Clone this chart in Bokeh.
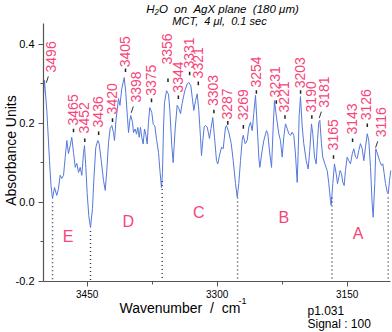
import numpy as np
from bokeh.plotting import figure
from bokeh.models import Range1d, FixedTicker, PrintfTickFormatter, Label, ColumnDataSource
from bokeh.embed import file_html
from bokeh.resources import INLINE
from bokeh.core.properties import value

# ---------------- data ----------------
wavenumber = [3500.4, 3499.3, 3496.6, 3493.5, 3491.8, 3490.0, 3487.7, 3485.1, 3483.1, 3481.2,
              3479.3, 3477.3, 3475.4, 3473.5, 3471.6, 3469.6, 3467.8, 3465.8, 3463.8, 3462.0,
              3460.0, 3458.1, 3456.2, 3454.3, 3453.1, 3451.6, 3450.0, 3448.2, 3446.2, 3443.9,
              3442.4, 3440.1, 3437.8, 3436.2, 3433.8, 3431.2, 3429.2, 3427.4, 3425.4, 3423.5,
              3421.6, 3419.7, 3418.5, 3416.8, 3413.9, 3412.2, 3410.1, 3407.3, 3405.5, 3403.5,
              3402.3, 3400.8, 3399.7, 3397.7, 3396.6, 3394.6, 3393.1, 3391.6, 3390.0, 3388.5,
              3387.0, 3385.4, 3383.9, 3382.4, 3380.8, 3379.3, 3377.8, 3375.5, 3373.8, 3372.0,
              3370.0, 3367.7, 3366.2, 3364.3, 3363.1, 3362.0, 3360.8, 3358.5, 3356.2, 3354.7,
              3352.4, 3350.8, 3348.5, 3346.2, 3344.3, 3342.3, 3340.4, 3337.4, 3334.6, 3332.8,
              3330.5, 3328.8, 3327.0, 3325.0, 3323.1, 3321.2, 3319.3, 3318.1, 3316.6, 3315.0,
              3313.5, 3311.5, 3308.9, 3307.2, 3305.1, 3303.1, 3300.8, 3299.3, 3297.0, 3295.0,
              3293.1, 3290.4, 3289.3, 3286.6, 3283.8, 3281.5, 3278.9, 3276.9, 3275.1, 3273.1,
              3271.2, 3270.0, 3267.7, 3265.4, 3263.5, 3261.6, 3259.6, 3257.8, 3255.8, 3253.8,
              3252.0, 3250.8, 3248.1, 3246.2, 3243.1, 3241.6, 3239.3, 3237.3, 3235.4, 3233.9,
              3231.6, 3228.9, 3227.0, 3225.0, 3223.2, 3221.2, 3219.2, 3217.4, 3215.4, 3213.5,
              3211.6, 3209.7, 3207.7, 3206.5, 3205.4, 3203.9, 3201.9, 3200.1, 3197.3, 3195.0,
              3193.2, 3191.2, 3189.7, 3187.7, 3185.8, 3184.3, 3182.8, 3181.6, 3179.7, 3178.2,
              3175.8, 3173.1, 3171.2, 3169.3, 3168.5, 3166.6, 3164.7, 3162.7, 3161.2, 3159.7,
              3158.1, 3156.6, 3155.1, 3153.5, 3152.0, 3150.0, 3148.2, 3146.2, 3144.2, 3142.4,
              3140.4, 3138.5, 3136.6, 3134.7, 3132.7, 3130.8, 3128.9, 3126.9, 3125.1, 3123.1,
              3121.2, 3120.0, 3118.2, 3117.0, 3115.0, 3112.7, 3110.4, 3108.9, 3107.3, 3105.8,
              3103.8, 3102.7, 3101.2, 3099.7]

absorbance = [0.270, 0.308, 0.232, 0.105, 0.042, 0.009, 0.037, 0.017, 0.035, 0.068,
              0.060, 0.068, 0.113, 0.156, 0.123, 0.143, 0.164, 0.126, 0.088, 0.098,
              0.075, 0.088, 0.068, 0.123, 0.143, 0.088, 0.022, -0.034, -0.064, -0.016,
              0.055, 0.138, 0.156, 0.148, 0.105, 0.055, 0.030, 0.080, 0.151, 0.186,
              0.194, 0.176, 0.156, 0.207, 0.262, 0.245, 0.287, 0.315, 0.277, 0.212,
              0.176, 0.207, 0.219, 0.202, 0.176, 0.185, 0.172, 0.189, 0.164, 0.189,
              0.164, 0.147, 0.185, 0.172, 0.147, 0.202, 0.239, 0.227, 0.197, 0.193,
              0.159, 0.126, 0.083, 0.037, 0.075, 0.185, 0.252, 0.282, 0.273, 0.235,
              0.143, 0.100, 0.185, 0.245, 0.237, 0.224, 0.250, 0.282, 0.299, 0.303,
              0.295, 0.265, 0.232, 0.257, 0.274, 0.232, 0.164, 0.118, 0.156, 0.190,
              0.194, 0.190, 0.161, 0.186, 0.214, 0.164, 0.105, 0.097, 0.122, 0.139,
              0.135, 0.190, 0.194, 0.177, 0.148, 0.105, 0.047, 0.013, 0.047, 0.105,
              0.156, 0.169, 0.148, 0.156, 0.190, 0.202, 0.181, 0.224, 0.270, 0.190,
              0.114, 0.088, 0.131, 0.156, 0.181, 0.173, 0.122, 0.088, 0.190, 0.257,
              0.215, 0.173, 0.156, 0.114, 0.164, 0.198, 0.186, 0.173, 0.169, 0.177,
              0.169, 0.122, 0.050, 0.131, 0.219, 0.267, 0.190, 0.148, 0.105, 0.084,
              0.131, 0.198, 0.173, 0.114, 0.097, 0.156, 0.202, 0.207, 0.148, 0.114,
              0.097, 0.080, 0.047, 0.004, -0.008, 0.047, 0.097, 0.072, 0.047, 0.063,
              0.080, 0.072, 0.051, 0.042, 0.080, 0.114, 0.105, 0.097, 0.122, 0.135,
              0.114, 0.110, 0.131, 0.148, 0.135, 0.105, 0.139, 0.173, 0.156, 0.088,
              -0.004, -0.038, 0.047, 0.135, 0.122, 0.105, 0.093, 0.097, 0.072, 0.047,
              0.025, 0.021, 0.055, 0.080]

peak_wn = [3496, 3465, 3452, 3436, 3420, 3405, 3398, 3375, 3356, 3344, 3331, 3321, 3303,
           3287, 3269, 3254, 3231, 3221, 3203, 3190, 3181, 3165, 3143, 3126, 3116]
label_h = [0.328, 0.194, 0.174, 0.189, 0.222, 0.341, 0.252, 0.269, 0.348, 0.277, 0.338, 0.313, 0.243,
           0.209, 0.207, 0.290, 0.265, 0.227, 0.288, 0.227, 0.239, 0.131, 0.171, 0.207, 0.164]
tick_h = [None, 0.181, 0.156, 0.174, 0.207, 0.333, None, 0.257, 0.308, 0.265, 0.325, 0.300, 0.229,
          0.200, 0.190, 0.278, 0.253, 0.215, 0.278, 0.215, None, 0.114, 0.156, 0.194, None]
leader_peaks = [3496, 3398, 3181, 3116]

region_names = ["E", "D", "C", "B", "A"]
region_wn = [3472.2, 3402.7, 3321.2, 3223.2, 3137.3]
region_h = [-0.087, -0.050, -0.025, -0.039, -0.080]

boundary_wn = [3490.0, 3446.2, 3363.5, 3276.5, 3167.5, 3102.7]

x_ticks = [3450, 3300, 3150]
x_minor = [3375, 3225]
y_ticks = [-0.2, 0.0, 0.2, 0.4]
y_minor = [-0.1, 0.1, 0.3]
x_axis_span = (3100.0, 3500.4)
y_axis_span = (-0.2, 0.452)

# ---------------- styling ----------------
PINK = "#f5457a"
BLUE = "#5578dc"
FONT = "Liberation Sans"
AXIS = "#555555"
SP = "\u00a0"  # non-breaking space keeps the wide gaps of the original texts

W, H = 392, 332
# the plotting frame covers the whole canvas; axes are pinned inside it
p = figure(width=W, height=H, output_backend="svg", toolbar_location=None,
           x_range=Range1d(3550.04, 3097.73), y_range=Range1d(-0.3295, 0.5100),
           min_border=0, min_border_left=0, min_border_right=0,
           min_border_top=0, min_border_bottom=0)
p.outline_line_color = None
p.xgrid.grid_line_color = None
p.ygrid.grid_line_color = None
p.background_fill_color = "white"
p.border_fill_color = "white"

# spectrum
p.line(wavenumber, absorbance, line_color=BLUE, line_width=1)

# dotted boundary lines, starting just below the local minimum
wn_arr = np.array(wavenumber)[::-1]
ab_arr = np.array(absorbance)[::-1]
tops = [float(np.interp(b, wn_arr, ab_arr)) - 0.009 for b in boundary_wn]
p.segment(x0=boundary_wn, y0=tops, x1=boundary_wn, y1=[y_axis_span[0]] * len(boundary_wn),
          line_color="#34425e", line_width=1.5, line_dash="1 3")

# peak labels
norm = [i for i, w in enumerate(peak_wn) if w not in leader_peaks]
lead = [i for i, w in enumerate(peak_wn) if w in leader_peaks]
src_n = ColumnDataSource(dict(x=[peak_wn[i] for i in norm], y=[label_h[i] for i in norm],
                              t=[str(peak_wn[i]) for i in norm]))
src_l = ColumnDataSource(dict(x=[peak_wn[i] for i in lead], y=[label_h[i] for i in lead],
                              t=[str(peak_wn[i]) for i in lead]))
common = dict(angle=np.pi / 2, text_align="left", text_baseline="middle",
              text_font=value(FONT), text_font_size="14px", text_color=PINK)
p.text(x="x", y="y", text="t", source=src_n, x_offset=-1.5, **common)
p.text(x="x", y="y", text="t", source=src_l, x_offset=4, **common)

# leader lines
p.segment(x0=[peak_wn[i] + 1.2 for i in lead], y0=[label_h[i] - 0.026 for i in lead],
          x1=[peak_wn[i] - 1.2 for i in lead], y1=[label_h[i] - 0.010 for i in lead],
          line_color="#333333", line_width=1)

# small black marks under labels
tk = [i for i in range(len(peak_wn)) if tick_h[i] is not None]
p.segment(x0=[peak_wn[i] + 0.8 for i in tk], y0=[tick_h[i] - 0.004 for i in tk],
          x1=[peak_wn[i] + 0.8 for i in tk], y1=[tick_h[i] + 0.005 for i in tk],
          line_color="#222222", line_width=1.5)

# region letters
p.text(x=region_wn, y=region_h, text=region_names, text_align="center", text_baseline="middle",
       text_font=value(FONT), text_font_size="16px", text_color=PINK)

# axes, pinned at the data corner
p.xaxis.fixed_location = y_axis_span[0]
p.yaxis.fixed_location = x_axis_span[1]
p.xaxis.bounds = x_axis_span
p.yaxis.bounds = y_axis_span
p.xaxis.ticker = FixedTicker(ticks=x_ticks, minor_ticks=x_minor)
p.yaxis.ticker = FixedTicker(ticks=y_ticks, minor_ticks=y_minor)
p.xaxis.formatter = PrintfTickFormatter(format="%d")
p.yaxis.formatter = PrintfTickFormatter(format="%.1f")
for ax in (p.xaxis[0], p.yaxis[0]):
    ax.axis_line_color = AXIS
    ax.axis_line_width = 1.2
    ax.major_tick_line_color = AXIS
    ax.minor_tick_line_color = AXIS
    ax.major_tick_in = 0
    ax.minor_tick_in = 0
    ax.major_tick_out = 5
    ax.minor_tick_out = 3
    ax.major_label_text_font = FONT
    ax.major_label_text_color = "black"
    ax.major_label_standoff = 4
p.xaxis.major_label_text_font_size = "10px"
p.yaxis.major_label_text_font_size = "11px"

# texts around the plot (screen units: x from left, y from bottom of the canvas)
def add_label(text, x, y, size, align="left", angle=0.0, style="normal", color="black"):
    p.add_layout(Label(x=x, y=y, x_units="screen", y_units="screen", text=text,
                       text_align=align, text_baseline="middle", angle=angle,
                       text_font=FONT, text_font_size=size, text_font_style=style,
                       text_color=color))

title1 = f"H\u2082O{SP*2}on{SP*2}AgX plane{SP*2}(180 \u03bcm)"
title2 = f"MCT,{SP*2}4 \u03bcl,{SP*2}0.1 sec"
add_label(title1, 222, H - 8, "11.5px", align="center", style="italic")
add_label(title2, 219, H - 20, "11px", align="center", style="italic")
add_label("Absorbance Units", 10, H - 150, "14px", align="center", angle=np.pi / 2)
add_label(f"Wavenumber{SP*2}/{SP*2}cm", 119, H - 307, "14px")
add_label("-1", 238, H - 300, "9px")
add_label("p1.031", 307, H - 310, "12px")
add_label("Signal : 100", 307, H - 323, "12px")

open("out.html", "w").write(file_html(p, INLINE))
